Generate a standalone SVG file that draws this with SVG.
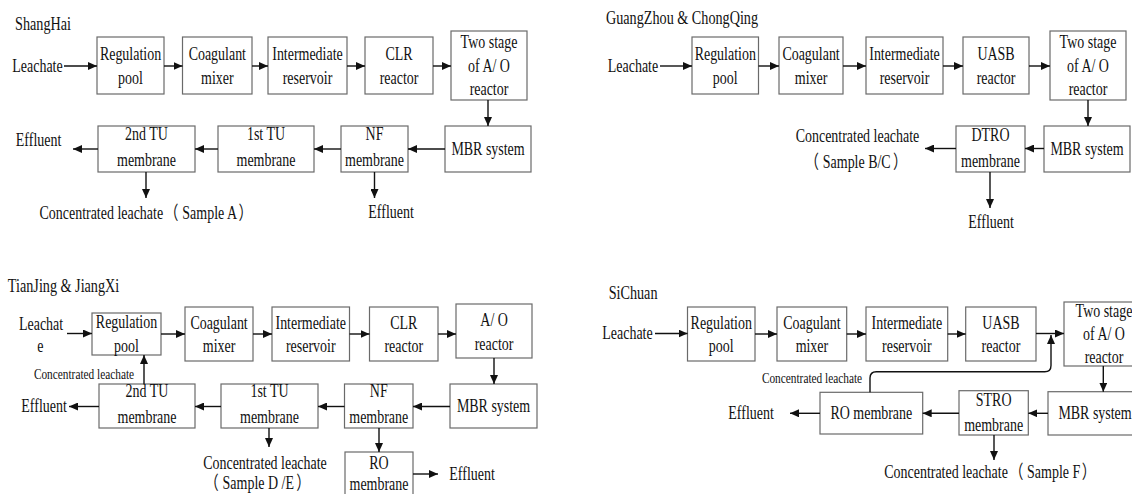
<svg xmlns="http://www.w3.org/2000/svg" width="1132" height="494" viewBox="0 0 1132 494">
<style>
.t{font-family:"Liberation Serif","Times New Roman","Noto Sans CJK SC",serif;font-size:18.5px;fill:#111;text-anchor:middle;transform-box:fill-box;transform-origin:center;transform:scaleX(0.755)}
.h{font-size:18.8px}
.s{font-size:15px}
.b{fill:#fff;stroke:#6a6a6a;stroke-width:1.2}
.c{fill:none;stroke:#111;stroke-width:1.4;marker-end:url(#ah)}
</style>
<defs>
<marker id="ah" markerUnits="userSpaceOnUse" markerWidth="9" markerHeight="8" viewBox="0 0 9 8" refX="9" refY="4" orient="auto">
<path d="M0,0 L9,4 L0,8 z" fill="#111"/>
</marker>
</defs>
<rect width="1132" height="494" fill="#fff"/>

<!-- ShangHai -->
<g id="sh-title"><text class="t h" x="43" y="30.5">ShangHai</text></g>
<g id="sh-leachate"><text class="t" x="37.5" y="72">Leachate</text></g>
<g id="sh-regulation"><rect class="b" x="97" y="37" width="67" height="57"/><text class="t"><tspan x="130.5" y="60.5">Regulation</tspan><tspan x="130.5" y="84">pool</tspan></text></g>
<g id="sh-coagulant"><rect class="b" x="182.5" y="37" width="69.5" height="57"/><text class="t"><tspan x="217.25" y="60.5">Coagulant</tspan><tspan x="217.25" y="84">mixer</tspan></text></g>
<g id="sh-intermediate"><rect class="b" x="268" y="37" width="79" height="57"/><text class="t"><tspan x="307.5" y="60.5">Intermediate</tspan><tspan x="307.5" y="84">reservoir</tspan></text></g>
<g id="sh-clr"><rect class="b" x="365" y="37" width="68" height="57"/><text class="t"><tspan x="399" y="60.5">CLR</tspan><tspan x="399" y="84">reactor</tspan></text></g>
<g id="sh-twostage"><rect class="b" x="451" y="31" width="76" height="69"/><text class="t"><tspan x="489" y="48.5">Two stage</tspan><tspan x="489" y="72">of A/ O</tspan><tspan x="489" y="95.5">reactor</tspan></text></g>
<g id="sh-mbr"><rect class="b" x="445" y="126" width="86" height="46"/><text class="t" x="488" y="155.5">MBR system</text></g>
<g id="sh-nf"><rect class="b" x="341" y="126" width="67" height="46"/><text class="t"><tspan x="374.5" y="140.5">NF</tspan><tspan x="374.5" y="166.5">membrane</tspan></text></g>
<g id="sh-tu1"><rect class="b" x="218" y="126" width="96" height="46"/><text class="t"><tspan x="266" y="140.5">1st TU</tspan><tspan x="266" y="166.5">membrane</tspan></text></g>
<g id="sh-tu2"><rect class="b" x="98" y="126" width="97" height="46"/><text class="t"><tspan x="146.5" y="140.5">2nd TU</tspan><tspan x="146.5" y="166.5">membrane</tspan></text></g>
<g id="sh-effluent1"><text class="t" x="38.5" y="146.5">Effluent</text></g>
<g id="sh-concentrate"><text class="t" x="146" y="219">Concentrated leachate<tspan dx="2">（</tspan><tspan dx="5">Sample A</tspan><tspan dx="2">）</tspan></text></g>
<g id="sh-effluent2"><text class="t" x="391" y="218.5">Effluent</text></g>

<!-- GuangZhou & ChongQing -->
<g id="gz-title"><text class="t h" x="682" y="24">GuangZhou &amp; ChongQing</text></g>
<g id="gz-leachate"><text class="t" x="633" y="72">Leachate</text></g>
<g id="gz-regulation"><rect class="b" x="692" y="37" width="66.5" height="57"/><text class="t"><tspan x="725.25" y="60.5">Regulation</tspan><tspan x="725.25" y="84">pool</tspan></text></g>
<g id="gz-coagulant"><rect class="b" x="779" y="37" width="64" height="57"/><text class="t"><tspan x="811" y="60.5">Coagulant</tspan><tspan x="811" y="84">mixer</tspan></text></g>
<g id="gz-intermediate"><rect class="b" x="866" y="37" width="77" height="57"/><text class="t"><tspan x="904.5" y="60.5">Intermediate</tspan><tspan x="904.5" y="84">reservoir</tspan></text></g>
<g id="gz-uasb"><rect class="b" x="963" y="37" width="66" height="57"/><text class="t"><tspan x="996" y="60.5">UASB</tspan><tspan x="996" y="84">reactor</tspan></text></g>
<g id="gz-twostage"><rect class="b" x="1050" y="31" width="76" height="69"/><text class="t"><tspan x="1088" y="48.5">Two stage</tspan><tspan x="1088" y="72">of A/ O</tspan><tspan x="1088" y="95.5">reactor</tspan></text></g>
<g id="gz-mbr"><rect class="b" x="1044" y="126" width="86" height="46"/><text class="t" x="1087" y="155.5">MBR system</text></g>
<g id="gz-dtro"><rect class="b" x="956" y="126" width="69" height="46"/><text class="t"><tspan x="990.5" y="141.5">DTRO</tspan><tspan x="990.5" y="167">membrane</tspan></text></g>
<g id="gz-concentrate"><text class="t" x="857.5" y="142">Concentrated leachate</text><text class="t" x="856" y="168.5">（<tspan dx="5">Sample B/C</tspan><tspan dx="3">）</tspan></text></g>
<g id="gz-effluent"><text class="t" x="991" y="228.5">Effluent</text></g>

<!-- TianJing & JiangXi -->
<g id="tj-title"><text class="t h" x="63.5" y="292">TianJing &amp; JiangXi</text></g>
<g id="tj-leachate"><text class="t"><tspan x="41" y="330">Leachat</tspan><tspan x="40" y="352">e</tspan></text></g>
<g id="tj-regulation"><rect class="b" x="92" y="313" width="69" height="42"/><text class="t"><tspan x="126.5" y="328.5">Regulation</tspan><tspan x="126.5" y="352">pool</tspan></text></g>
<g id="tj-coagulant"><rect class="b" x="185" y="307" width="68" height="54"/><text class="t"><tspan x="219" y="329">Coagulant</tspan><tspan x="219" y="352">mixer</tspan></text></g>
<g id="tj-intermediate"><rect class="b" x="272" y="307" width="77.5" height="54"/><text class="t"><tspan x="310.75" y="329">Intermediate</tspan><tspan x="310.75" y="352">reservoir</tspan></text></g>
<g id="tj-clr"><rect class="b" x="369.5" y="307" width="68.5" height="54"/><text class="t"><tspan x="403.75" y="329">CLR</tspan><tspan x="403.75" y="352">reactor</tspan></text></g>
<g id="tj-ao"><rect class="b" x="456" y="304" width="76" height="54"/><text class="t"><tspan x="494" y="326.5">A/ O</tspan><tspan x="494" y="350">reactor</tspan></text></g>
<g id="tj-mbr"><rect class="b" x="450" y="384" width="87" height="44"/><text class="t" x="493.5" y="412.5">MBR system</text></g>
<g id="tj-nf"><rect class="b" x="344.5" y="384" width="68.5" height="44"/><text class="t"><tspan x="378.75" y="397.5">NF</tspan><tspan x="378.75" y="423.5">membrane</tspan></text></g>
<g id="tj-tu1"><rect class="b" x="221" y="384" width="97" height="44"/><text class="t"><tspan x="269.5" y="397.5">1st TU</tspan><tspan x="269.5" y="423.5">membrane</tspan></text></g>
<g id="tj-tu2"><rect class="b" x="99" y="384" width="96" height="44"/><text class="t"><tspan x="147" y="397.5">2nd TU</tspan><tspan x="147" y="423.5">membrane</tspan></text></g>
<g id="tj-ro"><rect class="b" x="345" y="452" width="68" height="50"/><text class="t"><tspan x="379" y="469.5">RO</tspan><tspan x="379" y="490.5">membrane</tspan></text></g>
<g id="tj-effluent1"><text class="t" x="44" y="412.5">Effluent</text></g>
<g id="tj-recycle-label"><text class="t s" x="84" y="379">Concentrated leachate</text></g>
<g id="tj-concentrate"><text class="t" x="265" y="469.5">Concentrated leachate</text><text class="t" x="257.5" y="489.5">（<tspan dx="5">Sample D /E</tspan><tspan dx="3">）</tspan></text></g>
<g id="tj-effluent2"><text class="t" x="472" y="480.5">Effluent</text></g>

<!-- SiChuan -->
<g id="sc-title"><text class="t h" x="633" y="299">SiChuan</text></g>
<g id="sc-leachate"><text class="t" x="627.5" y="339.5">Leachate</text></g>
<g id="sc-regulation"><rect class="b" x="687.5" y="307" width="67.5" height="54"/><text class="t"><tspan x="721.25" y="329">Regulation</tspan><tspan x="721.25" y="352">pool</tspan></text></g>
<g id="sc-coagulant"><rect class="b" x="777" y="307" width="69.7" height="54"/><text class="t"><tspan x="811.85" y="329">Coagulant</tspan><tspan x="811.85" y="352">mixer</tspan></text></g>
<g id="sc-intermediate"><rect class="b" x="866" y="307" width="81.7" height="54"/><text class="t"><tspan x="906.85" y="329">Intermediate</tspan><tspan x="906.85" y="352">reservoir</tspan></text></g>
<g id="sc-uasb"><rect class="b" x="965.7" y="307" width="70.3" height="54"/><text class="t"><tspan x="1000.85" y="329">UASB</tspan><tspan x="1000.85" y="352">reactor</tspan></text></g>
<g id="sc-twostage"><rect class="b" x="1064" y="302" width="80" height="64"/><text class="t"><tspan x="1104" y="317.5">Two stage</tspan><tspan x="1104" y="340.5">of A/ O</tspan><tspan x="1104" y="363">reactor</tspan></text></g>
<g id="sc-mbr"><rect class="b" x="1048" y="391.7" width="90" height="43.3"/><text class="t" x="1095" y="419">MBR system</text></g>
<g id="sc-stro"><rect class="b" x="959" y="390.7" width="69.3" height="44.3"/><text class="t"><tspan x="993.65" y="406.5">STRO</tspan><tspan x="993.65" y="431.5">membrane</tspan></text></g>
<g id="sc-ro"><rect class="b" x="820" y="392.3" width="102.7" height="41.7"/><text class="t" x="871.35" y="419">RO membrane</text></g>
<g id="sc-effluent"><text class="t" x="751" y="419">Effluent</text></g>
<g id="sc-recycle-label"><text class="t s" x="812" y="382.7">Concentrated leachate</text></g>
<g id="sc-concentrate"><text class="t" x="990" y="478.3">Concentrated leachate<tspan dx="2">（</tspan><tspan dx="5">Sample F</tspan><tspan dx="2">）</tspan></text></g>

<g id="connectors">
<path class="c" d="M64,66 H97"/>
<path class="c" d="M164,66 H182.5"/>
<path class="c" d="M252,66 H268"/>
<path class="c" d="M347,66 H365"/>
<path class="c" d="M433,66 H451"/>
<path class="c" d="M488,100 V126"/>
<path class="c" d="M445,149 H408"/>
<path class="c" d="M341,149 H314"/>
<path class="c" d="M218,149 H195"/>
<path class="c" d="M98,149 H73"/>
<path class="c" d="M146,172 V198"/>
<path class="c" d="M374.5,172 V198"/>

<path class="c" d="M660,66 H692"/>
<path class="c" d="M758.5,66 H779"/>
<path class="c" d="M843,66 H866"/>
<path class="c" d="M943,66 H963"/>
<path class="c" d="M1029,66 H1050"/>
<path class="c" d="M1088,100 V126"/>
<path class="c" d="M1044,148.5 H1025"/>
<path class="c" d="M956,148.5 H925"/>
<path class="c" d="M990,172 V208"/>

<path class="c" d="M67,333.5 H92"/>
<path class="c" d="M161,334 H185"/>
<path class="c" d="M253,334 H272"/>
<path class="c" d="M349.5,334 H369.5"/>
<path class="c" d="M438,334 H456"/>
<path class="c" d="M494,358 V384"/>
<path class="c" d="M450,406.5 H413"/>
<path class="c" d="M344.5,406.5 H318"/>
<path class="c" d="M221,406.5 H195"/>
<path class="c" d="M99,406.5 H69"/>
<path class="c" d="M144,384 V355"/>
<path class="c" d="M269,428 V447"/>
<path class="c" d="M379,428 V452"/>
<path class="c" d="M413,474 H438"/>

<path class="c" d="M655,333.5 H687.5"/>
<path class="c" d="M755,334 H777"/>
<path class="c" d="M846.7,334 H866"/>
<path class="c" d="M947.7,334 H965.7"/>
<path class="c" d="M1036,333.5 H1064"/>
<path class="c" d="M870,392.3 V378 Q870,371.7 876.3,371.7 H1044.7 Q1051,371.7 1051,365.4 V335"/>
<path class="c" d="M1103.3,366 V391.7"/>
<path class="c" d="M1048,413.3 H1028.3"/>
<path class="c" d="M959,413.3 H922.7"/>
<path class="c" d="M820,413.3 H790"/>
<path class="c" d="M994,435 V460"/>
</g>
</svg>
